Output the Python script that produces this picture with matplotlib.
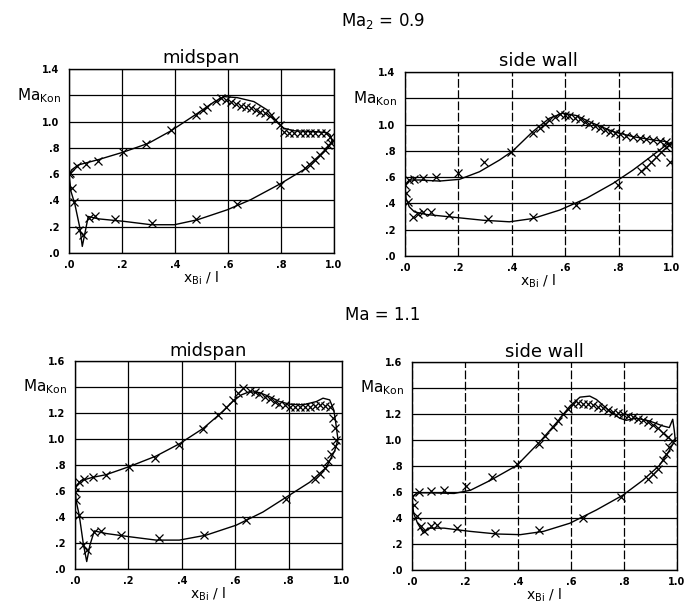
import matplotlib
matplotlib.use("Agg")
import matplotlib.pyplot as plt
import numpy as np

plt.rcParams['font.family'] = ['DejaVu Sans']

# ---------------- Data (Ma2 = 0.9, midspan) ----------------
a_ss_mx = [0.004, 0.029, 0.0625, 0.11, 0.204, 0.291, 0.385, 0.479, 0.504, 0.52, 0.554, 0.5725,
           0.591, 0.61, 0.629, 0.6475, 0.666, 0.685, 0.704, 0.7225, 0.741, 0.76, 0.779, 0.7975,
           0.81, 0.83, 0.85, 0.87, 0.89, 0.91, 0.93, 0.95, 0.97, 0.985, 0.99]
a_ss_my = [0.61, 0.66, 0.68, 0.70, 0.767, 0.828, 0.937, 1.05, 1.09, 1.11, 1.157, 1.177,
           1.165, 1.147, 1.13, 1.12, 1.11, 1.10, 1.09, 1.076, 1.063, 1.045, 1.013, 0.975,
           0.924, 0.91, 0.91, 0.91, 0.91, 0.91, 0.91, 0.91, 0.91, 0.886, 0.835]
a_ps_mx = [0.0, 0.01, 0.02, 0.0375, 0.054, 0.075, 0.0975, 0.1725, 0.3125, 0.48, 0.635, 0.795,
           0.89, 0.91, 0.929, 0.9475, 0.966, 0.979]
a_ps_my = [0.60, 0.494, 0.39, 0.177, 0.14, 0.27, 0.278, 0.258, 0.225, 0.258, 0.372, 0.519,
           0.646, 0.67, 0.709, 0.747, 0.785, 0.823]
a_ss_lx = [0.0, 0.01, 0.035, 0.11, 0.204, 0.3, 0.385, 0.485, 0.5475, 0.585, 0.635, 0.6975,
           0.7475, 0.785, 0.81, 0.8475, 0.9225, 0.9725, 0.985, 0.995]
a_ss_ly = [0.595, 0.633, 0.67, 0.71, 0.767, 0.835, 0.93, 1.063, 1.15, 1.19, 1.182, 1.152,
           1.089, 1.0, 0.95, 0.93, 0.924, 0.916, 0.9, 0.835]
a_ps_lx = [0.0, 0.0075, 0.0225, 0.041, 0.05, 0.0725, 0.11, 0.21, 0.31, 0.3975, 0.485, 0.5975,
           0.685, 0.795, 0.885, 0.9475, 0.985, 0.995]
a_ps_ly = [0.595, 0.468, 0.367, 0.19, 0.05, 0.278, 0.26, 0.24, 0.215, 0.215, 0.253, 0.329,
           0.405, 0.524, 0.633, 0.747, 0.823, 0.86]

# ---------------- Data (Ma2 = 0.9, side wall) ----------------
b_ss_mx = [0.0, 0.016, 0.035, 0.066, 0.116, 0.1975, 0.2975, 0.3975, 0.479, 0.504, 0.5225,
           0.541, 0.56, 0.579, 0.5975, 0.616, 0.635, 0.654, 0.6725, 0.691, 0.71, 0.729, 0.7475,
           0.766, 0.785, 0.804, 0.829, 0.854, 0.879, 0.904, 0.929, 0.954, 0.979, 0.99, 0.994]
b_ss_my = [0.54, 0.578, 0.585, 0.59, 0.603, 0.628, 0.712, 0.794, 0.934, 0.972, 1.005,
           1.036, 1.061, 1.079, 1.074, 1.066, 1.053, 1.04, 1.023, 1.005, 0.99, 0.972, 0.959,
           0.947, 0.934, 0.926, 0.916, 0.908, 0.90, 0.89, 0.883, 0.875, 0.865, 0.845, 0.712]
b_ps_mx = [0.004, 0.01, 0.029, 0.0475, 0.066, 0.0975, 0.166, 0.31, 0.479, 0.641, 0.7975,
           0.885, 0.904, 0.9225, 0.941, 0.96, 0.979]
b_ps_my = [0.476, 0.412, 0.298, 0.323, 0.336, 0.336, 0.31, 0.28, 0.298, 0.387, 0.539,
           0.646, 0.679, 0.718, 0.756, 0.794, 0.832]
b_ss_lx = [0.0, 0.016, 0.054, 0.129, 0.204, 0.279, 0.354, 0.404, 0.479, 0.541, 0.591, 0.641,
           0.704, 0.779, 0.854, 0.929, 0.979, 0.9975]
b_ss_ly = [0.54, 0.578, 0.578, 0.57, 0.583, 0.641, 0.73, 0.80, 0.947, 1.048, 1.087, 1.069,
           1.01, 0.947, 0.908, 0.883, 0.87, 0.845]
b_ps_lx = [0.0, 0.004, 0.016, 0.035, 0.079, 0.166, 0.291, 0.391, 0.479, 0.579, 0.679, 0.779,
           0.854, 0.929, 0.979, 0.9975]
b_ps_ly = [0.54, 0.438, 0.374, 0.336, 0.316, 0.298, 0.272, 0.26, 0.285, 0.349, 0.438, 0.552,
           0.654, 0.768, 0.845, 0.865]

# ---------------- Data (Ma = 1.1, midspan) ----------------
c_ss_mx = [0.0, 0.016, 0.035, 0.066, 0.116, 0.204, 0.301, 0.391, 0.479, 0.535, 0.566, 0.591,
           0.61, 0.629, 0.654, 0.6725, 0.691, 0.71, 0.729, 0.7475, 0.766, 0.785, 0.804, 0.8225,
           0.841, 0.86, 0.879, 0.8975, 0.916, 0.935, 0.954, 0.966, 0.9725, 0.979]
c_ss_my = [0.63, 0.667, 0.693, 0.706, 0.726, 0.787, 0.853, 0.954, 1.081, 1.188, 1.244, 1.302,
           1.353, 1.396, 1.371, 1.36, 1.345, 1.327, 1.31, 1.289, 1.269, 1.259, 1.251, 1.251,
           1.251, 1.251, 1.251, 1.256, 1.259, 1.256, 1.251, 1.162, 1.086, 0.997]
c_ps_mx = [0.001, 0.004, 0.016, 0.031, 0.044, 0.0725, 0.0975, 0.1725, 0.314, 0.485, 0.639,
           0.791, 0.8975, 0.916, 0.935, 0.9475, 0.96, 0.9725]
c_ps_my = [0.591, 0.528, 0.414, 0.185, 0.147, 0.287, 0.294, 0.261, 0.236, 0.266, 0.381,
           0.541, 0.693, 0.731, 0.774, 0.832, 0.883, 0.947]
c_ss_lx = [0.0, 0.0225, 0.066, 0.116, 0.204, 0.304, 0.391, 0.479, 0.554, 0.591, 0.6225, 0.654,
           0.691, 0.729, 0.766, 0.804, 0.854, 0.904, 0.929, 0.954, 0.969, 0.976, 0.985]
c_ss_ly = [0.63, 0.68, 0.706, 0.726, 0.789, 0.87, 0.964, 1.081, 1.213, 1.29, 1.34, 1.365,
           1.358, 1.327, 1.289, 1.269, 1.264, 1.289, 1.315, 1.302, 1.226, 1.137, 0.997]
c_ps_lx = [0.0, 0.004, 0.016, 0.031, 0.044, 0.056, 0.0725, 0.116, 0.204, 0.304, 0.391, 0.491,
           0.604, 0.704, 0.791, 0.879, 0.941, 0.9725, 0.985]
c_ps_ly = [0.63, 0.528, 0.414, 0.198, 0.058, 0.185, 0.294, 0.274, 0.249, 0.223, 0.223, 0.261,
           0.338, 0.439, 0.553, 0.668, 0.782, 0.909, 0.997]

# ---------------- Data (Ma = 1.1, side wall) ----------------
d_ss_mx = [0.0, 0.0275, 0.071, 0.121, 0.2025, 0.3025, 0.396, 0.4775, 0.5025, 0.534, 0.5525,
           0.571, 0.59, 0.609, 0.6275, 0.646, 0.665, 0.684, 0.7025, 0.721, 0.74, 0.759, 0.7775,
           0.796, 0.815, 0.834, 0.8525, 0.871, 0.89, 0.909, 0.9275, 0.946, 0.965, 0.98]
d_ss_my = [0.563, 0.60, 0.609, 0.619, 0.645, 0.716, 0.812, 0.97, 1.033, 1.10, 1.147,
           1.198, 1.236, 1.274, 1.287, 1.279, 1.274, 1.269, 1.256, 1.244, 1.228, 1.218, 1.208,
           1.198, 1.188, 1.178, 1.165, 1.152, 1.135, 1.117, 1.091, 1.058, 1.02, 0.99]
d_ps_mx = [0.006, 0.019, 0.034, 0.046, 0.071, 0.096, 0.171, 0.315, 0.4775, 0.644, 0.79,
           0.89, 0.909, 0.9275, 0.946, 0.959, 0.971]
d_ps_my = [0.50, 0.416, 0.335, 0.297, 0.34, 0.348, 0.322, 0.284, 0.31, 0.398, 0.558,
           0.703, 0.741, 0.779, 0.843, 0.893, 0.944]
d_ss_lx = [0.0, 0.021, 0.071, 0.159, 0.221, 0.296, 0.396, 0.484, 0.546, 0.596, 0.634, 0.671,
           0.696, 0.746, 0.784, 0.809, 0.846, 0.896, 0.946, 0.971, 0.984, 0.99, 0.994]
d_ss_ly = [0.563, 0.594, 0.594, 0.589, 0.614, 0.69, 0.805, 0.99, 1.135, 1.261, 1.33, 1.338,
           1.312, 1.223, 1.168, 1.152, 1.168, 1.147, 1.109, 1.096, 1.16, 1.07, 0.99]
d_ps_lx = [0.0, 0.006, 0.021, 0.044, 0.065, 0.121, 0.221, 0.321, 0.409, 0.496, 0.596, 0.696,
           0.796, 0.871, 0.934, 0.971, 0.99]
d_ps_ly = [0.563, 0.437, 0.36, 0.284, 0.322, 0.322, 0.297, 0.277, 0.272, 0.297, 0.36, 0.462,
           0.576, 0.69, 0.805, 0.919, 0.99]

x_ticks = [0.0, 0.2, 0.4, 0.6, 0.8, 1.0]
x_ticklabels = ['.0', '.2', '.4', '.6', '.8', '1.0']
y_ticks_top = [0.0, 0.2, 0.4, 0.6, 0.8, 1.0, 1.2, 1.4]
y_ticklabels_top = ['.0', '.2', '.4', '.6', '.8', '1.0', '', '1.4']
y_ticks_bot = [0.0, 0.2, 0.4, 0.6, 0.8, 1.0, 1.2, 1.4, 1.6]
y_ticklabels_bot = ['.0', '.2', '.4', '.6', '.8', '1.0', '1.2', '', '1.6']

fig = plt.figure(figsize=(6.91, 6.08), dpi=100)

panels = [
    dict(rect=[0.0999, 0.5839, 0.3835, 0.3026], title='midspan', ymax=1.4,
         yt=y_ticks_top, ytl=y_ticklabels_top, lab=1.2, dashed=False,
         data=(a_ss_mx, a_ss_my, a_ps_mx, a_ps_my, a_ss_lx, a_ss_ly, a_ps_lx, a_ps_ly)),
    dict(rect=[0.5861, 0.5790, 0.3864, 0.3026], title='side wall', ymax=1.4,
         yt=y_ticks_top, ytl=y_ticklabels_top, lab=1.2, dashed=True,
         data=(b_ss_mx, b_ss_my, b_ps_mx, b_ps_my, b_ss_lx, b_ss_ly, b_ps_lx, b_ps_ly)),
    dict(rect=[0.1085, 0.0640, 0.3864, 0.3420], title='midspan', ymax=1.6,
         yt=y_ticks_bot, ytl=y_ticklabels_bot, lab=1.4, dashed=False,
         data=(c_ss_mx, c_ss_my, c_ps_mx, c_ps_my, c_ss_lx, c_ss_ly, c_ps_lx, c_ps_ly)),
    dict(rect=[0.5962, 0.0625, 0.3835, 0.3420], title='side wall', ymax=1.6,
         yt=y_ticks_bot, ytl=y_ticklabels_bot, lab=1.4, dashed=True,
         data=(d_ss_mx, d_ss_my, d_ps_mx, d_ps_my, d_ss_lx, d_ss_ly, d_ps_lx, d_ps_ly)),
]

for p in panels:
    ax = fig.add_axes(p['rect'])
    smx, smy, pmx, pmy, slx, sly, plx, ply = p['data']
    ax.set_xlim(0, 1.0)
    ax.set_ylim(0, p['ymax'])
    ax.set_xticks(x_ticks)
    ax.set_xticklabels(x_ticklabels, fontsize=7, fontweight='bold')
    ax.set_yticks(p['yt'])
    ax.set_yticklabels(p['ytl'], fontsize=7, fontweight='bold')
    ax.tick_params(axis='y', length=0, pad=7)
    ax.tick_params(axis='x', length=0, pad=5)
    ax.yaxis.grid(True, color='black', lw=0.9)
    ax.xaxis.grid(True, color='black', lw=0.9,
                  linestyle=(0, (7, 2)) if p['dashed'] else '-')
    ax.set_axisbelow(True)
    for s in ax.spines.values():
        s.set_linewidth(1.0)
    ax.plot(slx, sly, color='black', lw=1.0, zorder=3)
    ax.plot(plx, ply, color='black', lw=1.0, zorder=3)
    ax.plot(smx, smy, 'x', color='black', ms=6, mew=0.9, zorder=4)
    ax.plot(pmx, pmy, 'x', color='black', ms=6, mew=0.9, zorder=4)
    ax.set_title(p['title'], fontsize=13, pad=4)
    ax.set_xlabel(r'x$_{\mathregular{Bi}}$ / l', fontsize=10, labelpad=0)
    ax.text(-0.03, p['lab'] / p['ymax'], r'Ma$_{\mathregular{Kon}}$', transform=ax.transAxes,
            ha='right', va='center', fontsize=11)

fig.text(0.554, 0.965, r'Ma$_{2}$ = 0.9', ha='center', va='center', fontsize=12)
fig.text(0.554, 0.482, 'Ma = 1.1', ha='center', va='center', fontsize=12)

fig.savefig('out.png', dpi=100)
